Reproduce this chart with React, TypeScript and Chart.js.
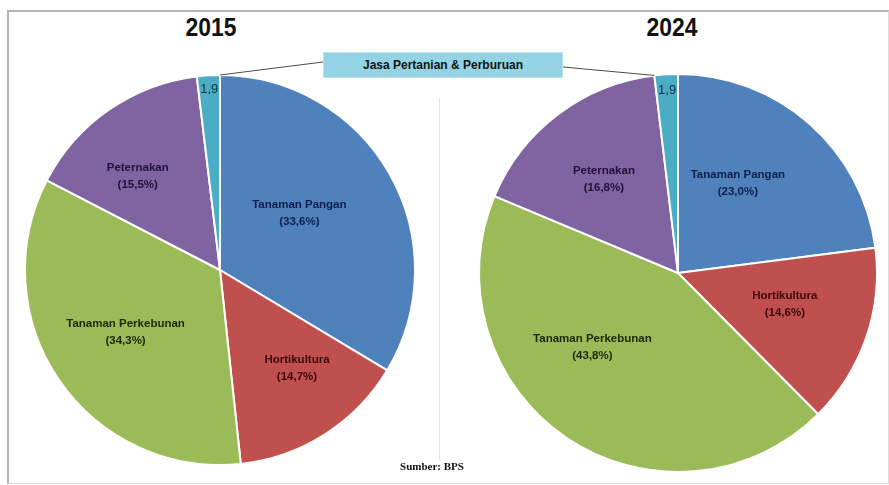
import React, { useEffect, useRef } from "react";
import { Chart, registerables } from "chart.js";

Chart.register(...registerables);

// ---------- data ----------
const categories = [
  "Tanaman Pangan",
  "Hortikultura",
  "Tanaman Perkebunan",
  "Peternakan",
  "Jasa Pertanian & Perburuan",
];
const values2015 = [33.6, 14.7, 34.3, 15.5, 1.9];
const values2024 = [23.0, 14.6, 43.8, 16.8, 1.9];
const yearLabels = ["2015", "2024"];
const sourceNote = "Sumber: BPS";

// ---------- styles ----------
const sliceColors = ["#4F81BD", "#C0504D", "#9BBB59", "#8064A2", "#4BACC6"];
const labelColors = ["#0f1f4a", "#3a0808", "#1a2806", "#20103c", "#0a3440"];
const labelRadius2015 = [0.5, 0.64, 0.58, 0.64, 0.93];
const labelRadius2024 = [0.54, 0.56, 0.57, 0.6, 0.92];
const labelTurn2015 = [-6, -5.5, 1, -6.5, 0];
const labelTurn2024 = [-7.5, -2.5, 15, -1.3, 0];
const FONT = "'Liberation Sans', Arial, sans-serif";
const BOX = { left: 323, top: 52, width: 240, height: 26 };

const fmt = (v: number) => v.toFixed(1).replace(".", ",");

const sliceLabelPlugin = {
  id: "sliceLabels",
  afterDatasetsDraw(chart: any, _args: any, opts: any) {
    const meta = chart.getDatasetMeta(0);
    const ctx = chart.ctx as CanvasRenderingContext2D;
    const data = chart.data.datasets[0].data as number[];
    ctx.save();
    ctx.textAlign = "center";
    ctx.textBaseline = "middle";
    meta.data.forEach((arc: any, i: number) => {
      const p = arc.getProps(["x", "y", "startAngle", "endAngle", "outerRadius"], true);
      const mid = (p.startAngle + p.endAngle) / 2 + (opts.turn[i] * Math.PI) / 180;
      const r = p.outerRadius * opts.radius[i];
      const px = p.x + Math.cos(mid) * r;
      const py = p.y + Math.sin(mid) * r;
      ctx.fillStyle = labelColors[i];
      if (i === data.length - 1) {
        ctx.font = `13px ${FONT}`;
        ctx.fillText(fmt(data[i]), px, py);
      } else {
        ctx.font = `bold 11.5px ${FONT}`;
        ctx.fillText(categories[i], px, py - 8.5);
        ctx.fillText(`(${fmt(data[i])}%)`, px, py + 8.5);
      }
    });
    // callout connector to the shared label box
    const last = meta.data[data.length - 1];
    if (last) {
      const p = last.getProps(["x", "y", "startAngle", "endAngle", "outerRadius"], true);
      const ang = opts.side === "left" ? p.endAngle : p.startAngle;
      const ex = p.x + Math.cos(ang) * p.outerRadius;
      const ey = p.y + Math.sin(ang) * p.outerRadius;
      ctx.strokeStyle = "#4a4a4a";
      ctx.lineWidth = 1;
      ctx.beginPath();
      ctx.moveTo(opts.anchor.x, opts.anchor.y);
      ctx.lineTo(ex, ey);
      ctx.stroke();
    }
    ctx.restore();
  },
};

function PieChart(props: {
  values: number[];
  width: number;
  height: number;
  padding: { left: number; right: number; top: number; bottom: number };
  radius: number[];
  turn: number[];
  side: "left" | "right";
  anchor: { x: number; y: number };
}) {
  const ref = useRef<HTMLCanvasElement>(null);
  useEffect(() => {
    if (!ref.current) return;
    const chart = new Chart(ref.current, {
      type: "pie",
      data: {
        labels: categories,
        datasets: [
          {
            data: props.values,
            backgroundColor: sliceColors,
            borderColor: "#ffffff",
            borderWidth: 2,
          },
        ],
      },
      options: {
        responsive: false,
        animation: false,
        layout: { padding: props.padding },
        plugins: {
          legend: { display: false },
          tooltip: { enabled: false },
          title: { display: false },
          sliceLabels: {
            radius: props.radius,
            turn: props.turn,
            side: props.side,
            anchor: props.anchor,
          },
        } as any,
      },
      plugins: [sliceLabelPlugin],
    });
    return () => chart.destroy();
  }, []);
  return (
    <canvas
      ref={ref}
      width={props.width}
      height={props.height}
      style={{ width: props.width, height: props.height, display: "block" }}
    />
  );
}

export default function App() {
  return (
    <div
      style={{
        position: "absolute",
        left: 0,
        top: 0,
        width: 889,
        height: 485,
        background: "#ffffff",
        overflow: "hidden",
      }}
    >
      {/* frame */}
      <div
        style={{
          position: "absolute",
          left: 7,
          top: 10,
          width: 879,
          height: 471,
          borderLeft: "2px solid #b4b4b4",
          borderTop: "2px solid #b4b4b4",
          borderRight: "1px solid #dcdcdc",
          borderBottom: "1px solid #dcdcdc",
        }}
      />
      {/* divider */}
      <div
        style={{
          position: "absolute",
          left: 439,
          top: 98,
          width: 1,
          height: 362,
          background: "#e2e2e2",
        }}
      />
      {/* titles */}
      {yearLabels.map((y, i) => (
        <div
          key={y}
          style={{
            position: "absolute",
            left: i === 0 ? 151 : 612,
            top: 14,
            width: 120,
            textAlign: "center",
            font: `bold 26px/26px ${FONT}`,
            color: "#111",
            transform: "scaleX(0.88)",
          }}
        >
          {y}
        </div>
      ))}
      <div style={{ position: "absolute", left: 0, top: 0 }}>
        <PieChart
          values={values2015}
          width={444}
          height={485}
          padding={{ left: 24, right: 28, top: 74, bottom: 19 }}
          radius={labelRadius2015}
          turn={labelTurn2015}
          side="left"
          anchor={{ x: BOX.left, y: BOX.top + 10 }}
        />
      </div>
      <div style={{ position: "absolute", left: 444, top: 0 }}>
        <PieChart
          values={values2024}
          width={445}
          height={485}
          padding={{ left: 34, right: 11, top: 73, bottom: 12 }}
          radius={labelRadius2024}
          turn={labelTurn2024}
          side="right"
          anchor={{ x: BOX.left + BOX.width - 444, y: BOX.top + 15 }}
        />
      </div>
      {/* shared callout box */}
      <div
        style={{
          position: "absolute",
          left: BOX.left,
          top: BOX.top,
          width: BOX.width,
          height: BOX.height,
          background: "#93D3E4",
          boxSizing: "border-box",
          border: "1px solid #b8e2ec",
          display: "flex",
          alignItems: "center",
          justifyContent: "center",
          font: `bold 12px ${FONT}`,
          color: "#141414",
        }}
      >
        {categories[4]}
      </div>
      {/* source */}
      <div
        style={{
          position: "absolute",
          left: 382,
          top: 460,
          width: 100,
          textAlign: "center",
          font: "bold 11px 'Liberation Serif', 'Times New Roman', serif",
          color: "#111",
        }}
      >
        {sourceNote}
      </div>
    </div>
  );
}
